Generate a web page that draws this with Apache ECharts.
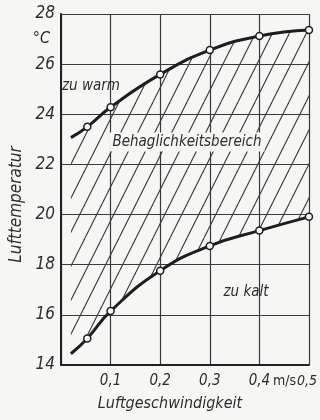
<!DOCTYPE html>
<html><head><meta charset="utf-8">
<script src="https://cdn.jsdelivr.net/npm/echarts@6/dist/echarts.min.js"></script>
<style>html,body{margin:0;padding:0;background:#f6f6f4}#c{width:320px;height:420px}</style>
</head><body><div id="c"></div>
<script>
// Data
const speed    = [0.02, 0.053, 0.1, 0.2, 0.3, 0.4, 0.5];           // m/s
const tooWarm  = [23.07, 23.5, 24.28, 25.59, 26.56, 27.12, 27.36]; // upper limit °C
const tooCold  = [14.45, 15.06, 16.15, 17.76, 18.75, 19.36, 19.91];// lower limit °C
const xTickLabels = ['', '0,1', '0,2', '0,3', '0,4', '0,5'];
const yTickLabels = ['14', '16', '18', '20', '22', '24', '26', '28'];

const FONT = "'Liberation Sans Narrow', 'DejaVu Sans Condensed', 'Liberation Sans', sans-serif";
const INK = '#2e2e2e';

function hatch() {
  const w = 17, h = 34, c = document.createElement('canvas');
  c.width = w; c.height = h;
  const g = c.getContext('2d');
  g.strokeStyle = '#3a3a3a'; g.lineWidth = 1.1;
  for (const o of [-w, 0, w]) { g.beginPath(); g.moveTo(o, h); g.lineTo(o + w, 0); g.stroke(); }
  return c;
}

const chart = echarts.init(document.getElementById('c'));
const markerData = (ys) => speed.map((x, i) => ({ value: [x, ys[i]], symbol: i === 0 ? 'none' : 'circle' }));
const SMOOTH = 0.5;

chart.setOption({
  backgroundColor: '#f6f6f4',
  animation: false,
  grid: { left: 58, right: 9, top: 14, bottom: 55 },
  xAxis: {
    type: 'value', min: 0, max: 0.5, interval: 0.1,
    name: 'Luftgeschwindigkeit', nameLocation: 'middle', nameGap: 31,
    nameTextStyle: { fontFamily: FONT, fontStyle: 'italic', fontSize: 16, color: INK, padding: [0, 30, 0, 0] },
    axisLine: { show: true, lineStyle: { color: '#222', width: 2 } },
    axisTick: { show: false },
    splitLine: { show: true, lineStyle: { color: '#3a3a3a', width: 1.2 } },
    axisLabel: {
      margin: 9, fontFamily: FONT, fontStyle: 'italic', fontSize: 15, color: INK,
      showMaxLabel: true, hideOverlap: false,
      formatter: (v) => {
        const i = Math.round(v * 10);
        if (i === 5) return '{u|m/s}{n|' + xTickLabels[i] + '}';
        return xTickLabels[i];
      },
      rich: {
        u: { fontFamily: FONT, fontStyle: 'normal', fontSize: 14, color: INK, padding: [0, 1, 0, 0] },
        n: { fontFamily: FONT, fontStyle: 'italic', fontSize: 14, color: INK, padding: [0, 28, 0, 0] }
      }
    }
  },
  yAxis: [{
    type: 'value', min: 14, max: 28, interval: 2,
    axisLine: { show: true, lineStyle: { color: '#222', width: 2 } },
    axisTick: { show: false },
    splitLine: { show: true, lineStyle: { color: '#3a3a3a', width: 1.2 } },
    axisLabel: {
      margin: 6, fontFamily: FONT, fontStyle: 'italic', fontSize: 17, color: INK,
      showMaxLabel: true,
      formatter: (v) => yTickLabels[Math.round((v - 14) / 2)]
    }
  }, {
    type: 'value', min: 14, max: 28, position: 'left',
    name: 'Lufttemperatur', nameLocation: 'middle', nameGap: 36,
    nameTextStyle: { fontFamily: FONT, fontStyle: 'italic', fontSize: 17, color: INK, padding: [0, 30, 0, 0] },
    axisLine: { show: false }, axisTick: { show: false }, axisLabel: { show: false }, splitLine: { show: false }
  }],
  graphic: [
    { type: 'text', z: 100, x: 50, y: 39, style: { text: '°C', font: 'italic 16px ' + FONT, fill: INK, textAlign: 'right', textVerticalAlign: 'middle' } },
    { type: 'text', z: 100, x: 62, y: 86, style: { text: 'zu warm', font: 'italic 15px ' + FONT, fill: INK, textAlign: 'left', textVerticalAlign: 'middle' } },
    { type: 'text', z: 100, x: 187, y: 142, style: { text: 'Behaglichkeitsbereich', font: 'italic 15px ' + FONT, fill: INK, textAlign: 'center', textVerticalAlign: 'middle', backgroundColor: '#f6f6f4', padding: [2, 3] } },
    { type: 'text', z: 100, x: 246, y: 292, style: { text: 'zu kalt', font: 'italic 15px ' + FONT, fill: INK, textAlign: 'center', textVerticalAlign: 'middle' } }
  ],
  series: [
    { type: 'line', name: 'base', stack: 'band', smooth: SMOOTH, symbol: 'none', silent: true,
      encode: { x: 1, y: 0 },
      lineStyle: { opacity: 0 }, data: speed.map((x, i) => [tooCold[i], x]) },
    { type: 'line', name: 'Behaglichkeitsbereich', stack: 'band', smooth: SMOOTH, symbol: 'none', silent: true,
      encode: { x: 1, y: 0 },
      lineStyle: { opacity: 0 }, areaStyle: { color: { image: hatch(), repeat: 'repeat' }, opacity: 1 },
      data: speed.map((x, i) => [tooWarm[i] - tooCold[i], x]) },
    { type: 'line', name: 'zu warm', smooth: SMOOTH, z: 5, symbolSize: 7,
      lineStyle: { color: '#1e1e1e', width: 3 },
      itemStyle: { color: '#fafafa', borderColor: '#1e1e1e', borderWidth: 1.5 },
      data: markerData(tooWarm) },
    { type: 'line', name: 'zu kalt', smooth: SMOOTH, z: 5, symbolSize: 7,
      lineStyle: { color: '#1e1e1e', width: 3 },
      itemStyle: { color: '#fafafa', borderColor: '#1e1e1e', borderWidth: 1.5 },
      data: markerData(tooCold) }
  ]
});
</script></body></html>
